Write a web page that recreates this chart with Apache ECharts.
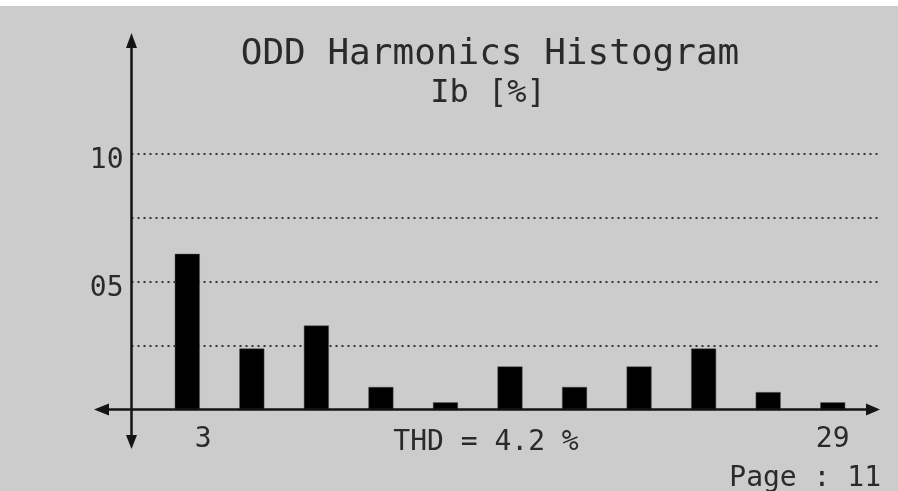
<!DOCTYPE html>
<html>
<head>
<meta charset="utf-8">
<script src="https://cdn.jsdelivr.net/npm/echarts@6/dist/echarts.min.js"></script>
<style>
  html, body { margin: 0; padding: 0; background: #fff; }
  #chart { width: 898px; height: 491px; }
</style>
</head>
<body>
<div id="chart"></div>
<script>
// odd harmonics of Ib, in % of fundamental
const harmonicLabels = ['3', '', '', '', '', '', '', '', '', '', '29']
const oddHarmonicPct = [6.1, 2.4, 3.3, 0.9, 0.3, 1.7, 0.9, 1.7, 2.4, 0.7, 0.3]
const yTickLabels = { 5: '05', 10: '10' }
const thdText = 'THD = 4.2 %'
const pageText = 'Page : 11'

const MONO = '"DejaVu Sans Mono", "Liberation Mono", monospace'
const INK = '#2a2a2a'
const AXIS = '#141414'

const chart = echarts.init(document.getElementById('chart'))

// arrow heads for the hand-drawn looking axes
function arrow(points) {
  return { type: 'polygon', z: 10, shape: { points }, style: { fill: AXIS } }
}

chart.setOption({
  backgroundColor: '#cccccc',
  animation: false,
  title: [
    {
      text: 'ODD Harmonics Histogram',
      left: 485, top: 32, textAlign: 'center',
      textStyle: { fontFamily: MONO, fontSize: 36, fontWeight: 'normal', color: INK },
    },
    {
      text: 'Ib [%]',
      left: 483, top: 73, textAlign: 'center',
      textStyle: { fontFamily: MONO, fontSize: 32, fontWeight: 'normal', color: INK },
    },
    {
      text: thdText,
      left: 481, top: 424, textAlign: 'center',
      textStyle: { fontFamily: MONO, fontSize: 28, fontWeight: 'normal', color: INK },
    },
    {
      text: pageText,
      right: 12, top: 460,
      textStyle: { fontFamily: MONO, fontSize: 28, fontWeight: 'normal', color: INK },
    },
  ],
  grid: [
    { left: 155, right: 33, top: 154, bottom: 81 },
    { left: 131.5, right: 18, top: 154, bottom: 81 },
  ],
  xAxis: [
    {
      type: 'category',
      gridIndex: 0,
      data: harmonicLabels.map((h, i) =>
        i === 0 ? { value: h, textStyle: { padding: [0, 0, 0, 32] } } : h
      ),
      axisLine: { show: false },
      axisTick: { show: false },
      axisLabel: {
        interval: 0, margin: 16,
        fontFamily: MONO, fontSize: 28, color: INK,
      },
      splitLine: { show: false },
    },
    { type: 'value', gridIndex: 1, min: 0, max: 1, show: false },
  ],
  yAxis: [
    { type: 'value', gridIndex: 0, min: 0, max: 10, show: false },
    {
      type: 'value',
      gridIndex: 1,
      min: 0, max: 10, interval: 2.5,
      axisLine: { show: false },
      axisTick: { show: false },
      axisLabel: {
        margin: 8,
        formatter: (v) => (yTickLabels[v] ? '{t|' + yTickLabels[v] + '}' : ''),
        rich: {
          t: { fontFamily: MONO, fontSize: 28, color: INK, padding: [14, 0, 0, 0] },
        },
      },
      splitLine: {
        lineStyle: { type: [2, 4], width: 2, color: '#333' },
        showMinLine: false,
      },
    },
  ],
  series: [
    {
      type: 'bar',
      xAxisIndex: 0, yAxisIndex: 0,
      barWidth: 25,
      itemStyle: { color: '#000', borderColor: '#555', borderWidth: 0.5 },
      data: oddHarmonicPct,
      z: 5,
    },
    { type: 'line', xAxisIndex: 1, yAxisIndex: 1, data: [] },
  ],
  graphic: [
    { type: 'rect', shape: { x: 0, y: 0, width: 898, height: 6 }, style: { fill: '#fff' } },
    // vertical axis
    { type: 'line', z: 10, shape: { x1: 131.5, y1: 44, x2: 131.5, y2: 440 }, style: { stroke: AXIS, lineWidth: 2.5 } },
    arrow([[131.5, 33], [126, 48], [137, 48]]),
    arrow([[131.5, 449], [126, 435], [137, 435]]),
    // horizontal axis
    { type: 'line', z: 10, shape: { x1: 104, y1: 409.5, x2: 870, y2: 409.5 }, style: { stroke: AXIS, lineWidth: 2.5 } },
    arrow([[94, 409.5], [109, 403.5], [109, 415.5]]),
    arrow([[880, 409.5], [866, 403.5], [866, 415.5]]),
  ],
})
</script>
</body>
</html>
